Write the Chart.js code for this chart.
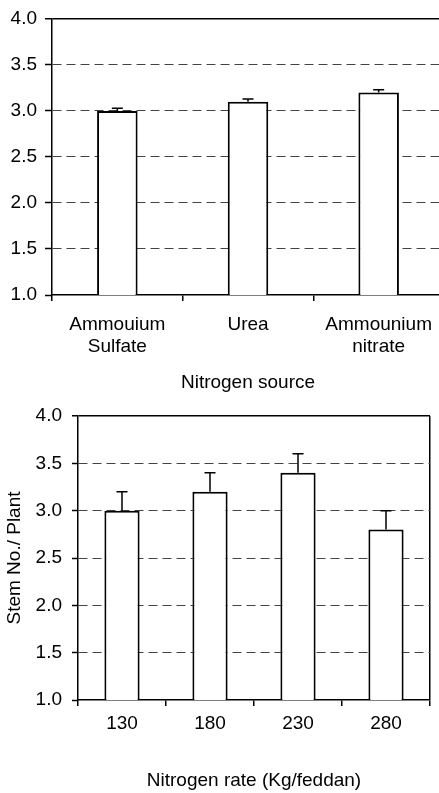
<!DOCTYPE html>
<html><head><meta charset="utf-8">
<script src="https://cdn.jsdelivr.net/npm/chart.js@4/dist/chart.umd.min.js"></script>
<style>
html,body{margin:0;padding:0;background:#fff;overflow:hidden;}
#wrap{position:relative;width:439px;height:793px;overflow:hidden;background:#fff;}
#c1{position:absolute;left:0;top:0;width:446px;height:395px;}
#c2{position:absolute;left:0;top:395px;width:439px;height:398px;}
</style></head><body>
<div id="wrap"><canvas id="c1" width="446" height="395"></canvas><canvas id="c2" width="439" height="398"></canvas></div>
<script>
// ---- data ----
const sourceCategories = [['Ammouium', 'Sulfate'], 'Urea', ['Ammounium', 'nitrate']];
const sourceValues = [3.0, 3.1, 3.2];
const sourceErrors = [0.03, 0.03, 0.03];
const rateCategories = ['130', '180', '230', '280'];
const rateValues = [3.0, 3.2, 3.4, 2.8];
const rateErrors = [0.2, 0.2, 0.2, 0.2];
const yTickValues = [1.0, 1.5, 2.0, 2.5, 3.0, 3.5, 4.0];
const sourceTitle = 'Nitrogen source';
const rateTitle = 'Nitrogen rate (Kg/feddan)';
const yTitle = 'Stem No./ Plant';

Chart.defaults.font.family = "'Liberation Sans', Arial, sans-serif";
Chart.defaults.font.size = 19;
Chart.defaults.font.lineHeight = 1.15;
Chart.defaults.color = '#000';

const errorBarsPlugin = {
  id: 'errorBars',
  afterDatasetsDraw(chart, args, opts) {
    const meta = chart.getDatasetMeta(0);
    const ys = chart.scales.y;
    const vals = chart.data.datasets[0].data;
    const ctx = chart.ctx;
    ctx.save();
    ctx.strokeStyle = '#000';
    ctx.lineWidth = 1.5;
    meta.data.forEach((bar, i) => {
      const yTop = ys.getPixelForValue(vals[i] + opts.errors[i]);
      const x = bar.x;
      ctx.beginPath();
      ctx.moveTo(x, bar.y);
      ctx.lineTo(x, yTop);
      ctx.moveTo(x - opts.cap / 2, yTop);
      ctx.lineTo(x + opts.cap / 2, yTop);
      ctx.stroke();
    });
    ctx.restore();
  }
};

function makeChart(canvasId, cats, vals, errs, barPct, xTitle, yTitleText, o) {
  return new Chart(document.getElementById(canvasId), {
    type: 'bar',
    data: {
      labels: cats,
      datasets: [{
        data: vals,
        backgroundColor: '#fff',
        borderColor: '#000',
        borderWidth: 2,
        categoryPercentage: 1,
        barPercentage: barPct
      }]
    },
    plugins: [errorBarsPlugin],
    options: {
      responsive: false,
      animation: false,
      events: [],
      layout: { padding: o.padding },
      plugins: {
        legend: { display: false },
        tooltip: { enabled: false },
        errorBars: { errors: errs, cap: 11 }
      },
      scales: {
        x: {
          offset: true,
          grid: {
            offset: true,
            display: true,
            drawOnChartArea: true,
            drawTicks: true,
            tickLength: 6,
            lineWidth: 1.5,
            color: c => (c.type === 'tick' ? 'rgba(0,0,0,0)' : '#000'),
            tickColor: '#000'
          },
          border: { display: true, color: '#000', width: 1.5 },
          ticks: { padding: o.xPad, maxRotation: 0, autoSkip: false, color: '#000' },
          title: { display: true, text: xTitle, padding: 0, color: '#000' },
          afterFit: s => { s.height = o.xHeight; }
        },
        y: {
          min: 1, max: 4,
          afterBuildTicks: s => { s.ticks = yTickValues.map(v => ({ value: v })); },
          grid: {
            display: true,
            drawTicks: true,
            tickLength: o.yTickLen,
            lineWidth: c => (c.tick && c.tick.value === 4 ? 1.5 : 1),
            tickWidth: 1.5,
            color: c => {
              if (!c.tick) return '#000';
              if (c.tick.value === 4) return '#000';
              if (c.tick.value === 1) return 'rgba(0,0,0,0)';
              return '#444';
            },
            tickColor: '#000'
          },
          border: {
            display: true, color: '#000', width: 1.5,
            dash: c => (c.tick && c.tick.value !== 4 ? [9, 5] : [])
          },
          ticks: { padding: o.yPad, color: '#000', callback: v => Number(v).toFixed(1) },
          title: yTitleText ? { display: true, text: yTitleText, padding: { top: 4, bottom: 0 }, color: '#000' } : { display: false },
          afterFit: s => { s.width = o.yWidth; }
        }
      }
    }
  });
}

makeChart('c1', sourceCategories, sourceValues, sourceErrors, 0.31, sourceTitle, null, {
  padding: { top: 18, left: 0, right: 2, bottom: 1 },
  xHeight: 99, xPad: 13, yWidth: 52, yTickLen: 7, yPad: 8
});
makeChart('c2', rateCategories, rateValues, rateErrors, 0.4, rateTitle, yTitle, {
  padding: { top: 21, left: 0, right: 9, bottom: 1 },
  xHeight: 92, xPad: 7, yWidth: 78, yTickLen: 6, yPad: 10
});
</script>
</body></html>
